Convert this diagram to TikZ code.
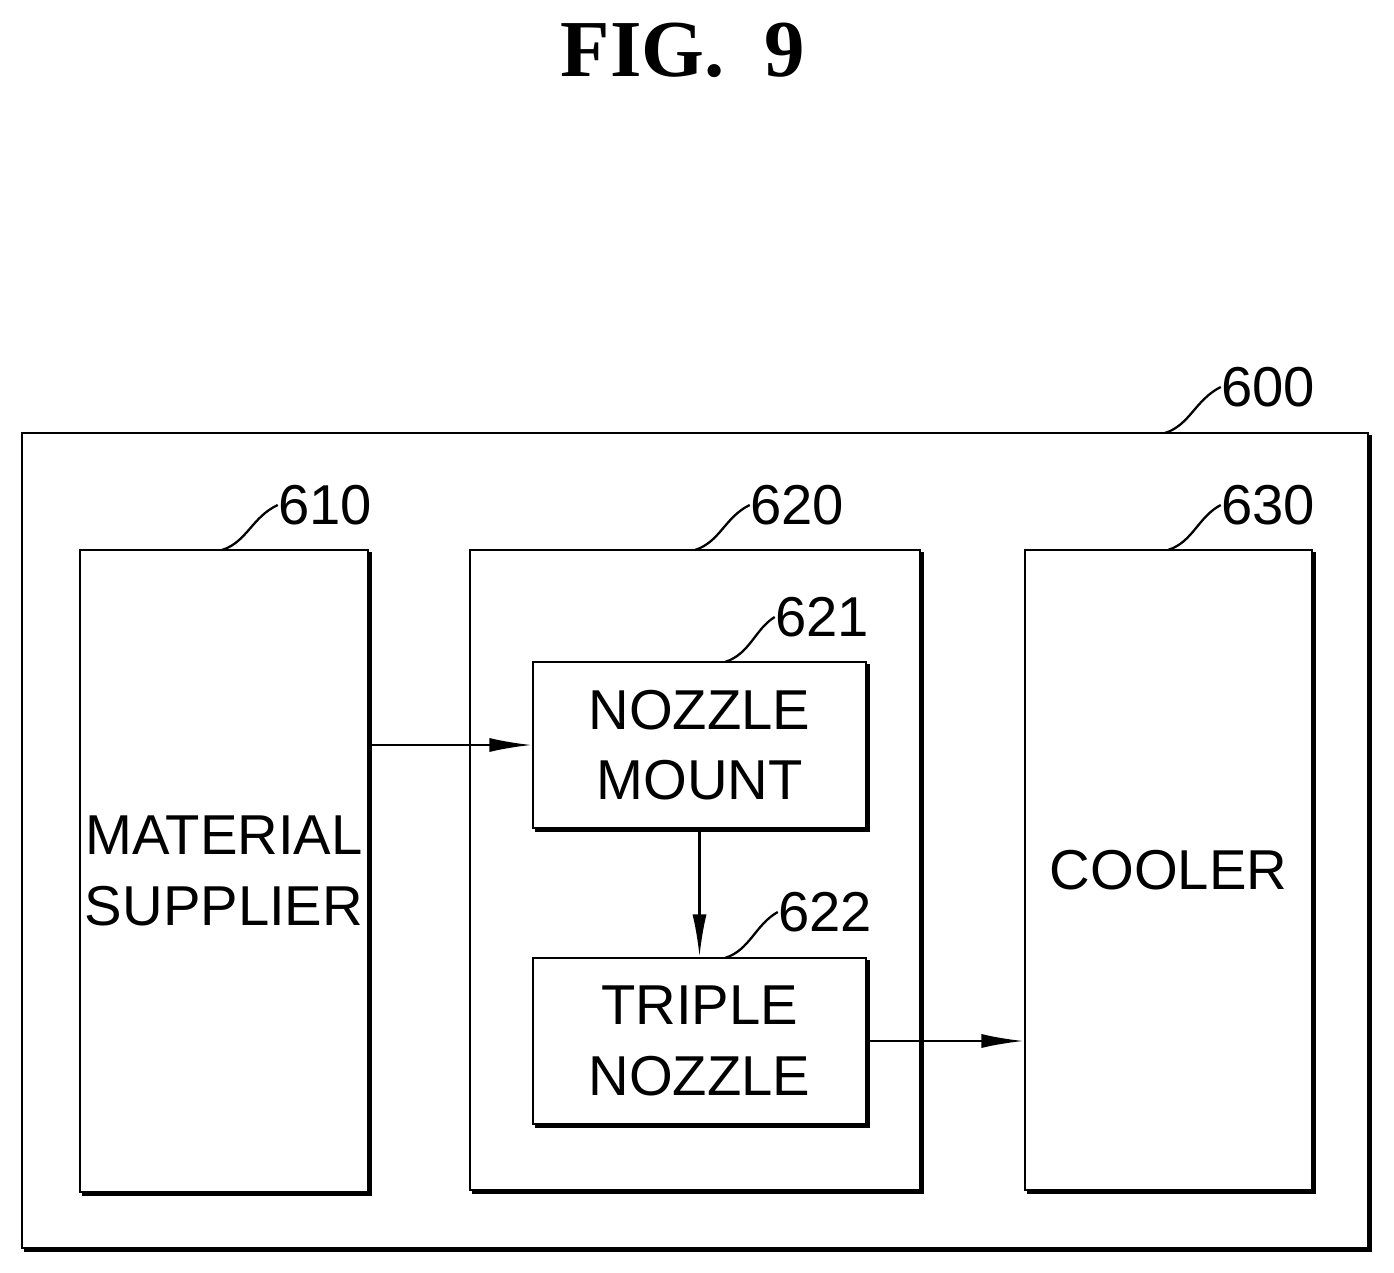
\documentclass[tikz,border=0pt]{standalone}
\usepackage{fontspec}
\setmainfont{Liberation Sans}
\newfontfamily\titlefont{Liberation Serif}
\usetikzlibrary{arrows.meta}
\begin{document}
\begin{tikzpicture}[x=0.02cm,y=-0.02cm,
  blk/.style={draw,line width=1.6pt,inner sep=0pt,font=\fontsize{32}{40}\selectfont,align=center},
  lbl/.style={font=\fontsize{32}{40}\selectfont,inner sep=0pt},
  lead/.style={line width=1.3pt},
  flow/.style={line width=1.3pt,-{Latex[length=24pt,width=8pt]}}]
\useasboundingbox (0,0) rectangle (1394,1273);
\node[font=\titlefont\bfseries\fontsize{46}{50}\selectfont] (title) at (683,50) {FIG.\ \ 9};
% boxes
\node[blk,minimum width=1346*0.02cm,minimum height=815*0.02cm] (sys) at (695,840.5) {};
\node[blk,minimum width=288*0.02cm,minimum height=642*0.02cm] (sup) at (224,871) {MATERIAL\\SUPPLIER};
\node[blk,minimum width=450*0.02cm,minimum height=640*0.02cm] (head) at (695,870) {};
\node[blk,minimum width=287*0.02cm,minimum height=640*0.02cm] (cool) at (1168.5,870) {COOLER};
\node[blk,minimum width=333*0.02cm,minimum height=166*0.02cm] (mount) at (699.5,745) {NOZZLE\\MOUNT};
\node[blk,minimum width=333*0.02cm,minimum height=166*0.02cm] (triple) at (699.5,1041) {TRIPLE\\NOZZLE};
% shadow edges
\foreach \n in {sys,sup,head,cool,mount,triple}
  \draw[line width=3pt] ([yshift=-2pt]\n.north east) -- (\n.south east) -- ([xshift=2pt]\n.south west);
% reference numerals
\node[lbl] (n600) at (1268,387) {600};
\node[lbl] (n610) at (325,505) {610};
\node[lbl] (n620) at (797,505) {620};
\node[lbl] (n630) at (1268,505) {630};
\node[lbl] (n621) at (822,617) {621};
\node[lbl] (n622) at (825,912) {622};
\draw[lead] (1165,433) .. controls (1190,425) and (1195,400) .. (n600.west);
\draw[lead] (222,550) .. controls (247,542) and (252,517) .. (n610.west);
\draw[lead] (695,550) .. controls (720,542) and (725,517) .. (n620.west);
\draw[lead] (1168,550) .. controls (1193,542) and (1198,517) .. (n630.west);
\draw[lead] (725,662) .. controls (750,654) and (755,629) .. (n621.west);
\draw[lead] (725,958) .. controls (750,950) and (755,925) .. (n622.west);
% flows
\draw[flow] (sup.east |- mount.west) -- (mount.west);
\draw[flow] (mount) -- (triple);
\draw[flow] (triple.east) -- (triple.east -| cool.west);
\end{tikzpicture}
\end{document}
